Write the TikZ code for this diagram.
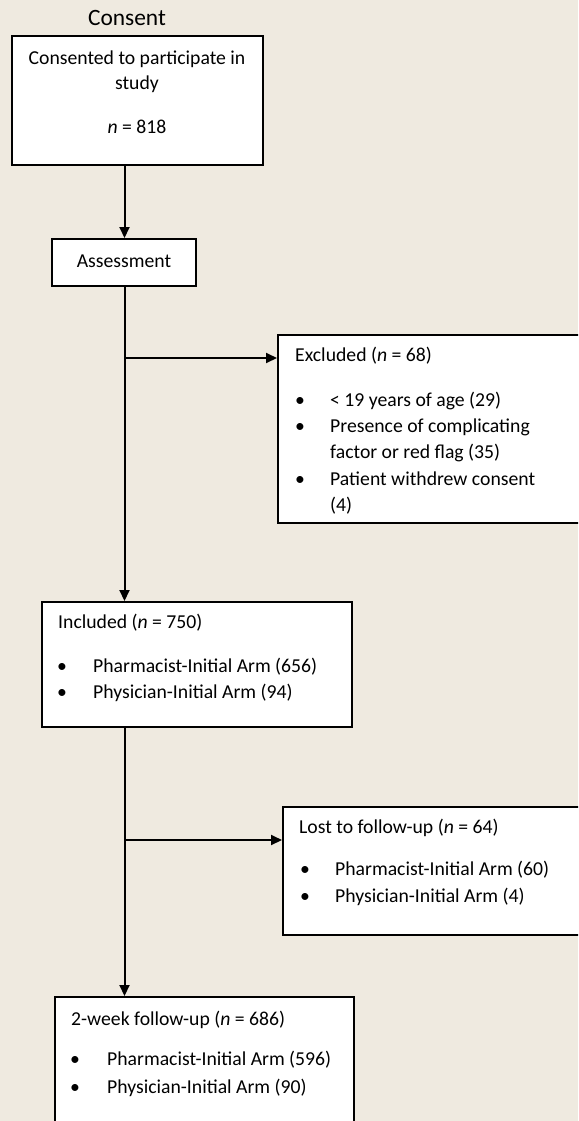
\documentclass[tikz,border=0pt]{standalone}
\usepackage{fontspec}
\setmainfont{Carlito}
\usetikzlibrary{arrows.meta}
\definecolor{bgc}{RGB}{239,234,224}
\begin{document}
\begin{tikzpicture}[x=1pt,y=-1pt,
  box/.style={draw=black, fill=white, line width=2pt, rectangle, inner sep=0pt},
  arr/.style={line width=2pt, -{Triangle[length=11pt,width=10pt]}},
  txt/.style={font=\fontsize{19.7pt}{24pt}\selectfont, inner sep=0pt, anchor=base west},
  ctxt/.style={font=\fontsize{19.7pt}{24pt}\selectfont, inner sep=0pt, anchor=base}]
\useasboundingbox (0,0) rectangle (578,1121);
\clip (0,0) rectangle (578,1121);
\fill[bgc] (0,0) rectangle (578,1121);

% boxes
\node[box, minimum width=251pt, minimum height=129pt] (cons) at (137,100.5) {};
\node[box, minimum width=144pt, minimum height=47pt] (assess) at (124,262.5) {};
\node[box, minimum width=307pt, minimum height=188pt] (excl) at (431.5,429) {};
\node[box, minimum width=310pt, minimum height=125pt] (incl) at (197,664.5) {};
\node[box, minimum width=302pt, minimum height=128pt] (lost) at (434,871) {};
\node[box, minimum width=299pt, minimum height=140pt] (follow) at (204.5,1067) {};

% texts
\node[ctxt, font=\fontsize{23.4pt}{28pt}\selectfont] (tcons) at (127,26) {Consent};
\node[ctxt] (c1) at (137,65) {Consented to participate in};
\node[ctxt] (c2) at (137,90) {study};
\node[ctxt] (c3) at (137,133) {\textit{n} = 818};
\node[ctxt] (a1) at (124,267) {Assessment};

\node[txt] (e0) at (295,361) {Excluded (\textit{n} = 68)};
\node[ctxt] (eb1) at (300,406) {\textbullet};
\node[txt] (e1) at (330,406) {< 19 years of age (29)};
\node[ctxt] (eb2) at (300,432) {\textbullet};
\node[txt] (e2) at (330,432) {Presence of complicating};
\node[txt] (e3) at (330,458.5) {factor or red flag (35)};
\node[ctxt] (eb3) at (300,485) {\textbullet};
\node[txt] (e4) at (330,485) {Patient withdrew consent};
\node[txt] (e5) at (330,511) {(4)};

\node[txt] (i0) at (58,628) {Included (\textit{n} = 750)};
\node[ctxt] (ib1) at (62,672) {\textbullet};
\node[txt] (i1) at (93,672) {Pharmacist-Initial Arm (656)};
\node[ctxt] (ib2) at (62,698) {\textbullet};
\node[txt] (i2) at (93,698) {Physician-Initial Arm (94)};

\node[txt] (l0) at (299,833) {Lost to follow-up (\textit{n} = 64)};
\node[ctxt] (lb1) at (305,875) {\textbullet};
\node[txt] (l1) at (335,875) {Pharmacist-Initial Arm (60)};
\node[ctxt] (lb2) at (305,902) {\textbullet};
\node[txt] (l2) at (335,902) {Physician-Initial Arm (4)};

\node[txt] (f0) at (71,1025) {2-week follow-up (\textit{n} = 686)};
\node[ctxt] (fb1) at (75,1065) {\textbullet};
\node[txt] (f1) at (107,1065) {Pharmacist-Initial Arm (596)};
\node[ctxt] (fb2) at (75,1093) {\textbullet};
\node[txt] (f2) at (107,1093) {Physician-Initial Arm (90)};

% connectors
\coordinate (s1) at (124.5,165);
\coordinate (br1) at (124.5,358);
\coordinate (br2) at (124.5,840);
\draw[arr] (s1) -- (s1 |- assess.north);
\draw[arr] (br1 |- assess.south) -- (br1 |- incl.north);
\draw[arr] (br1) -- (br1 -| excl.west);
\draw[arr] (br2 |- incl.south) -- (br2 |- follow.north);
\draw[arr] (br2) -- (br2 -| lost.west);
\end{tikzpicture}
\end{document}
